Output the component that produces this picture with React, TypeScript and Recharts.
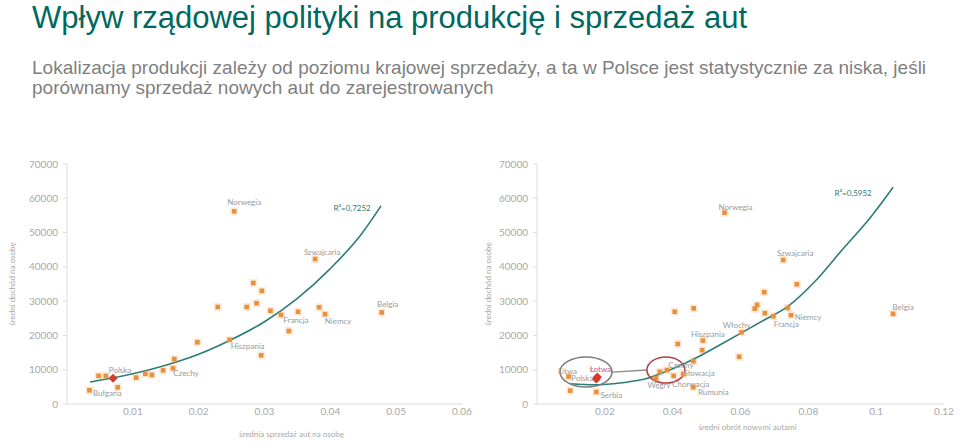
import React from 'react';
import { ComposedChart, Scatter, Line, XAxis, YAxis, ReferenceDot, ReferenceLine, Label } from 'recharts';

// values
const yTicks = [0, 10000, 20000, 30000, 40000, 50000, 60000, 70000];
const leftXTicks = [0.01, 0.02, 0.03, 0.04, 0.05, 0.06];
const rightXTicks = [0.02, 0.04, 0.06, 0.08, 0.1, 0.12];

const leftPoints = [
  { name: 'Norwegia', x: 0.0254, y: 56200 },
  { name: 'Szwajcaria', x: 0.0377, y: 42300 },
  { name: '', x: 0.0283, y: 35300 },
  { name: '', x: 0.0296, y: 33000 },
  { name: '', x: 0.0229, y: 28300 },
  { name: '', x: 0.0273, y: 28300 },
  { name: '', x: 0.0288, y: 29400 },
  { name: '', x: 0.0309, y: 27200 },
  { name: 'Francja', x: 0.0325, y: 26000 },
  { name: '', x: 0.0351, y: 26900 },
  { name: '', x: 0.0383, y: 28200 },
  { name: 'Niemcy', x: 0.0392, y: 26200 },
  { name: 'Belgia', x: 0.0478, y: 26700 },
  { name: '', x: 0.0337, y: 21300 },
  { name: '', x: 0.0198, y: 18000 },
  { name: 'Hiszpania', x: 0.0247, y: 18700 },
  { name: '', x: 0.0295, y: 14200 },
  { name: '', x: 0.0163, y: 13100 },
  { name: 'Czechy', x: 0.0161, y: 10400 },
  { name: '', x: 0.0146, y: 9800 },
  { name: '', x: 0.0129, y: 8500 },
  { name: '', x: 0.0119, y: 8800 },
  { name: '', x: 0.0105, y: 7700 },
  { name: '', x: 0.0048, y: 8200 },
  { name: '', x: 0.0059, y: 8200 },
  { name: '', x: 0.0077, y: 4900 },
  { name: 'Bułgaria', x: 0.0034, y: 4000 },
  { name: 'Polska', x: 0.007, y: 7500, hl: true },
];

const leftTrend = [
  { x: 0.0035, y: 6400 },
  { x: 0.01, y: 8800 },
  { x: 0.015, y: 11300 },
  { x: 0.02, y: 14500 },
  { x: 0.025, y: 18800 },
  { x: 0.03, y: 24000 },
  { x: 0.035, y: 30800 },
  { x: 0.04, y: 39500 },
  { x: 0.0445, y: 49000 },
  { x: 0.0477, y: 57800 },
];

const rightPoints = [
  { name: 'Norwegia', x: 0.0553, y: 55800 },
  { name: 'Szwajcaria', x: 0.0726, y: 42000 },
  { name: '', x: 0.0766, y: 34900 },
  { name: '', x: 0.067, y: 32600 },
  { name: '', x: 0.0649, y: 28900 },
  { name: '', x: 0.0642, y: 27800 },
  { name: '', x: 0.0672, y: 26500 },
  { name: '', x: 0.0406, y: 26900 },
  { name: '', x: 0.0462, y: 27900 },
  { name: '', x: 0.0739, y: 28000 },
  { name: 'Francja', x: 0.0697, y: 25600 },
  { name: 'Niemcy', x: 0.0749, y: 25900 },
  { name: 'Włochy', x: 0.0603, y: 20900 },
  { name: 'Hiszpania', x: 0.0489, y: 18500 },
  { name: '', x: 0.0415, y: 17500 },
  { name: '', x: 0.0487, y: 15700 },
  { name: '', x: 0.0596, y: 13800 },
  { name: '', x: 0.0461, y: 12500 },
  { name: 'Belgia', x: 0.105, y: 26300 },
  { name: 'Czechy', x: 0.0383, y: 9900 },
  { name: '', x: 0.0362, y: 9400 },
  { name: 'Węgry', x: 0.0351, y: 7500 },
  { name: 'Słowacja', x: 0.0431, y: 8700 },
  { name: 'Chorwacja', x: 0.0403, y: 8200 },
  { name: 'Rumunia', x: 0.0461, y: 4900 },
  { name: 'Litwa', x: 0.0093, y: 8000 },
  { name: '', x: 0.0098, y: 3900 },
  { name: 'Serbia', x: 0.0175, y: 3500 },
  { name: 'Łotwa', x: 0.0178, y: 7900, hl: true },
  { name: 'Polska', x: 0.0175, y: 7300, hl: true },
];

const rightTrend = [
  { x: 0.0098, y: 5900 },
  { x: 0.017, y: 5600 },
  { x: 0.025, y: 6200 },
  { x: 0.0315, y: 7200 },
  { x: 0.04, y: 10300 },
  { x: 0.047, y: 13500 },
  { x: 0.054, y: 17300 },
  { x: 0.06, y: 20600 },
  { x: 0.067, y: 24500 },
  { x: 0.074, y: 28500 },
  { x: 0.082, y: 35800 },
  { x: 0.09, y: 45000 },
  { x: 0.098, y: 54000 },
  { x: 0.105, y: 63200 },
];

// label placement (dx, dy in px relative to the marker)
const leftLabelPos: Record<string, [number, number]> = {
  Norwegia: [10, -9], Szwajcaria: [7, -7], Francja: [15, 5], Niemcy: [13, 7], Belgia: [6, -8],
  Hiszpania: [18, 6], Czechy: [13, 5], Polska: [7, -8], 'Bułgaria': [18, 3],
};
const rightLabelPos: Record<string, [number, number]> = {
  Norwegia: [11, -6], Szwajcaria: [12, -7], Niemcy: [17, 2], Francja: [13, 8], 'Włochy': [-5, -7],
  Hiszpania: [5, -7], Belgia: [10, -7], Litwa: [-1, -6], Polska: [-14, -1], 'Łotwa': [3, -8],
  Serbia: [15, 3], Czechy: [14, -5], 'Słowacja': [16, -1], Chorwacja: [17, 8], 'Węgry': [3, 7], Rumunia: [20, 5],
};

const FONT = 'Lato, "Open Sans", sans-serif';
const ORANGE = '#e8913c';
const RED = '#d83a2c';
const TEAL = '#2c7c78';
const AXIS = '#dcdcdc';
const TICK = { fill: '#a8a8a8', fontSize: 10, fontFamily: FONT };

const makeShape = (pos: Record<string, [number, number]>) => (props: any) => {
  const { cx, cy, payload } = props;
  const off = payload.name ? pos[payload.name] : null;
  const labelColor = payload.name === 'Łotwa' ? '#b8607a' : '#9a9a9a';
  return (
    <g>
      {payload.hl ? (
        <polygon
          points={`${cx},${cy - 4.5} ${cx + 4.5},${cy} ${cx},${cy + 4.5} ${cx - 4.5},${cy}`}
          fill={RED}
        />
      ) : (
        <>
          <rect x={cx - 4} y={cy - 4} width={8} height={8} fill={ORANGE} opacity={0.18} />
          <rect x={cx - 2.3} y={cy - 2.3} width={4.6} height={4.6} fill={ORANGE} />
        </>
      )}
      {off && (
        <text
          x={cx + off[0]}
          y={cy + off[1]}
          textAnchor="middle"
          dominantBaseline="central"
          fontSize={8}
          fontFamily={FONT}
          fill={labelColor}
        >
          {payload.name}
        </text>
      )}
    </g>
  );
};

const yTitle = (dx: number) => (p: any) => {
  const vb = p.viewBox;
  const x = vb.x + dx;
  const y = vb.y + vb.height / 2;
  return (
    <text x={x} y={y} transform={`rotate(-90 ${x} ${y})`} textAnchor="middle" dominantBaseline="central"
      fontSize={8} fontFamily={FONT} fill="#a8a8a8">
      średni dochód na osobę
    </text>
  );
};

const xTitle = (text: string, dx: number, dy: number) => (p: any) => {
  const vb = p.viewBox;
  return (
    <text x={vb.x + vb.width / 2 + dx} y={vb.y + dy} textAnchor="middle" dominantBaseline="central"
      fontSize={8} fontFamily={FONT} fill="#a8a8a8">
      {text}
    </text>
  );
};

const r2Label = (text: string) => (p: any) => (
  <text x={p.cx} y={p.cy} textAnchor="middle" dominantBaseline="central" fontSize={8} fontFamily={FONT} fill={TEAL}>
    {text}
  </text>
);

const ellipse = (rx: number, ry: number, color: string) => (p: any) => (
  <ellipse cx={p.cx} cy={p.cy} rx={rx} ry={ry} fill="none" stroke={color} strokeWidth={1.6} />
);

const App = () => {
  return (
    <div style={{ position: 'absolute', left: 0, top: 0, width: 960, height: 447, background: '#fff', overflow: 'hidden' }}>
      <div style={{ position: 'absolute', left: 32, top: 0, fontFamily: '"Liberation Sans", Arial, sans-serif', fontSize: 31, lineHeight: '36px', color: '#00695f', whiteSpace: 'nowrap' }}>
        Wpływ rządowej polityki na produkcję i sprzedaż aut
      </div>
      <div style={{ position: 'absolute', left: 32, top: 58, fontFamily: '"Liberation Sans", Arial, sans-serif', fontSize: 19, lineHeight: '20px', color: '#7f7f7f', whiteSpace: 'nowrap' }}>
        Lokalizacja produkcji zależy od poziomu krajowej sprzedaży, a ta w Polsce jest statystycznie za niska, jeśli
        <br />
        porównamy sprzedaż nowych aut do zarejestrowanych
      </div>

      <div style={{ position: 'absolute', left: 0, top: 140 }}>
        <ComposedChart width={480} height={307} margin={{ top: 24, right: 18, left: 7, bottom: 7 }}>
          <XAxis dataKey="x" type="number" domain={[0, 0.06]} ticks={leftXTicks} tick={TICK} tickLine={false}
            tickSize={0} tickMargin={4} stroke={AXIS} height={36} allowDataOverflow>
            <Label content={xTitle('średnia sprzedaż aut na osobę', 27, 30)} />
          </XAxis>
          <YAxis type="number" domain={[0, 70000]} ticks={yTicks} tick={TICK} tickSize={4} tickMargin={5}
            stroke={AXIS} width={60}>
            <Label content={yTitle(5)} />
          </YAxis>
          <Line data={leftTrend} dataKey="y" type="monotone" stroke={TEAL} strokeWidth={1.6} dot={false} isAnimationActive={false} />
          <Scatter data={leftPoints} dataKey="y" shape={makeShape(leftLabelPos)} isAnimationActive={false} />
          <ReferenceDot x={0.0433} y={57100} shape={r2Label('R²=0,7252')} />
        </ComposedChart>
      </div>

      <div style={{ position: 'absolute', left: 480, top: 140 }}>
        <ComposedChart width={480} height={307} margin={{ top: 24, right: 16, left: 2, bottom: 7 }}>
          <XAxis dataKey="x" type="number" domain={[0, 0.12]} ticks={rightXTicks} tick={TICK} tickLine={false}
            tickSize={0} tickMargin={4} stroke={AXIS} height={36} allowDataOverflow>
            <Label content={xTitle('średni obrót nowymi autami', 7, 23)} />
          </XAxis>
          <YAxis type="number" domain={[0, 70000]} ticks={yTicks} tick={TICK} tickSize={4} tickMargin={5}
            stroke={AXIS} width={55}>
            <Label content={yTitle(6)} />
          </YAxis>
          <Line data={rightTrend} dataKey="y" type="monotone" stroke={TEAL} strokeWidth={1.6} dot={false} isAnimationActive={false} />
          <ReferenceLine segment={[{ x: 0.0222, y: 9300 }, { x: 0.0325, y: 9900 }]} stroke="#8a8a8a" strokeWidth={1.4} />
          <ReferenceDot x={0.01445} y={9330} shape={ellipse(26, 15, '#7d7d7d')} />
          <ReferenceDot x={0.038} y={9910} shape={ellipse(19, 13, '#b04545')} />
          <Scatter data={rightPoints} dataKey="y" shape={makeShape(rightLabelPos)} isAnimationActive={false} />
          <ReferenceDot x={0.0932} y={61500} shape={r2Label('R²=0,5952')} />
        </ComposedChart>
      </div>
    </div>
  );
};

export default App;
